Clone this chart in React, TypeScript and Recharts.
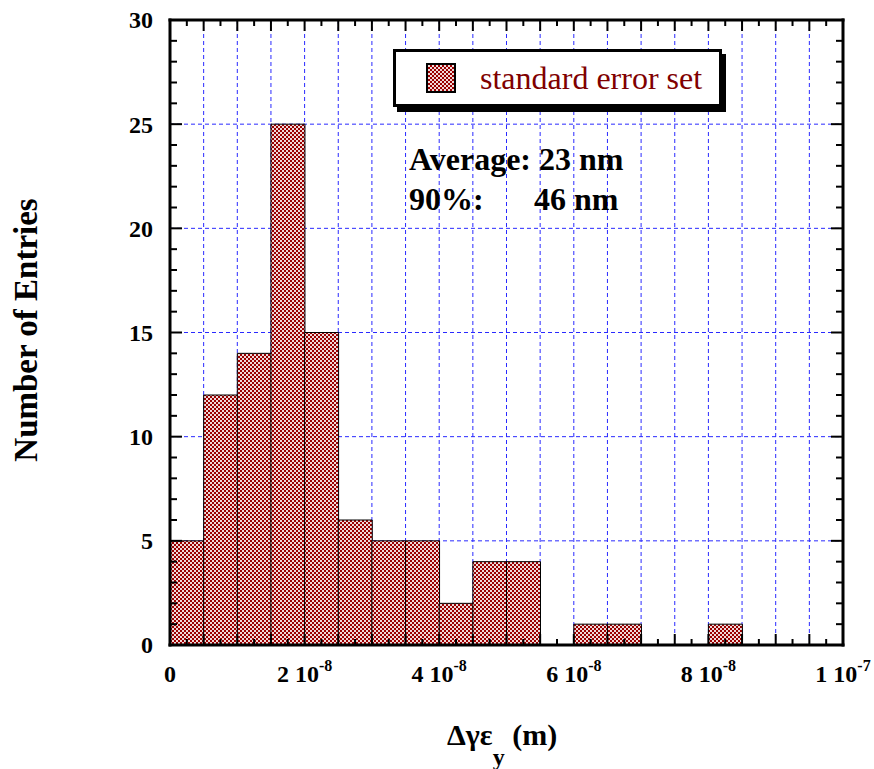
import { BarChart, Bar, XAxis, YAxis, CartesianGrid, Legend, Customized } from "recharts";

// histogram bins, 5 nm wide (values in metres)
const binCenters = [
  2.5e-9, 7.5e-9, 1.25e-8, 1.75e-8, 2.25e-8, 2.75e-8, 3.25e-8, 3.75e-8, 4.25e-8, 4.75e-8,
  5.25e-8, 5.75e-8, 6.25e-8, 6.75e-8, 7.25e-8, 7.75e-8, 8.25e-8, 8.75e-8, 9.25e-8, 9.75e-8,
];
const entries = [5, 12, 14, 25, 15, 6, 5, 5, 2, 4, 4, 0, 1, 1, 0, 0, 1, 0, 0, 0];

const xLabelValues = [0, 2e-8, 4e-8, 6e-8, 8e-8, 1e-7];
const xLabelMantissa = ["0", "2", "4", "6", "8", "1"];
const xLabelExponent = ["", "-8", "-8", "-8", "-8", "-7"];

const gridX = [
  5e-9, 1e-8, 1.5e-8, 2e-8, 2.5e-8, 3e-8, 3.5e-8, 4e-8, 4.5e-8, 5e-8,
  5.5e-8, 6e-8, 6.5e-8, 7e-8, 7.5e-8, 8e-8, 8.5e-8, 9e-8, 9.5e-8,
];
const gridY = [5, 10, 15, 20, 25];

// tick marks: every 2.5 nm on x, every 1 entry on y
const xTickMarks = Array.from({ length: 41 }, (_, i) => i * 2.5e-9);
const yTickMarks = Array.from({ length: 31 }, (_, i) => i);

const data = binCenters.map((c, i) => ({ bin: c, count: entries[i] }));

const FONT = "'Liberation Serif', 'Times New Roman', serif";

const isMajorX = (v: number) => Math.round(v / 2.5e-9) % 2 === 0;

const BottomTick = ({ x, y, payload }: any) => {
  const v = payload.value;
  const li = xLabelValues.findIndex((t) => Math.abs(t - v) < 1e-12);
  return (
    <g>
      <line x1={x} x2={x} y1={y} y2={y - (isMajorX(v) ? 11 : 6)} stroke="#000" strokeWidth={2} />
      {li >= 0 && (
        <text x={x} y={y + 37} textAnchor="middle" fontFamily={FONT} fontWeight="bold" fontSize={24} fill="#000">
          {xLabelMantissa[li]}
          {xLabelExponent[li] && (
            <>
              <tspan> 10</tspan>
              <tspan dy={-11} fontSize={16}>{xLabelExponent[li]}</tspan>
            </>
          )}
        </text>
      )}
    </g>
  );
};

const TopTick = ({ x, y, payload }: any) => (
  <line x1={x} x2={x} y1={y} y2={y + (isMajorX(payload.value) ? 11 : 6)} stroke="#000" strokeWidth={2} />
);

const LeftTick = ({ x, y, payload }: any) => {
  const v = payload.value;
  const major = v % 5 === 0;
  return (
    <g>
      <line x1={x} x2={x + (major ? 12 : 7)} y1={y} y2={y} stroke="#000" strokeWidth={2} />
      {major && (
        <text x={x - 17} y={y} dy="0.35em" textAnchor="end" fontFamily={FONT} fontWeight="bold" fontSize={24} fill="#000">
          {v}
        </text>
      )}
    </g>
  );
};

const RightTick = ({ x, y, payload }: any) => (
  <line x1={x} x2={x - (payload.value % 5 === 0 ? 12 : 7)} y1={y} y2={y} stroke="#000" strokeWidth={2} />
);

const LegendBox = () => (
  <div
    style={{
      boxSizing: "border-box",
      width: 329,
      height: 58,
      border: "3px solid #000",
      background: "#fff",
      boxShadow: "4px 5px 0 #000",
      display: "flex",
      alignItems: "center",
      paddingLeft: 30,
    }}
  >
    <svg width={30} height={30} style={{ marginRight: 24 }}>
      <rect x={1} y={1} width={28} height={28} fill="url(#xhatch)" stroke="#000" strokeWidth={2} />
    </svg>
    <span style={{ fontFamily: FONT, fontSize: 32, color: "#800000", lineHeight: 1 }}>standard error set</span>
  </div>
);

const Labels = () => (
  <g fontFamily={FONT} fontWeight="bold" fill="#000">
    <text x={409} y={170} fontSize={32}>Average: 23 nm</text>
    <text x={409} y={210} fontSize={32}>90%:</text>
    <text x={534} y={210} fontSize={32}>46 nm</text>
    <text x={37} y={330} fontSize={33} textAnchor="middle" transform="rotate(-90 37 330)">
      Number of Entries
    </text>
    <text x={447} y={745} fontSize={30}>
      Δγε
      <tspan dy={20} fontSize={24}>y</tspan>
      <tspan dy={-20}> (m)</tspan>
    </text>
  </g>
);

const frameLine = { stroke: "#000", strokeWidth: 3, strokeLinecap: "square" as const };

export default function App() {
  return (
    <div style={{ position: "absolute", left: 0, top: 0 }}>
      <BarChart
        width={874}
        height={769}
        data={data}
        margin={{ top: 19, right: 30, bottom: 123, left: 169 }}
        barCategoryGap={0}
        barGap={0}
      >
        <defs>
          <pattern id="xhatch" width={4} height={4} patternUnits="userSpaceOnUse">
            <rect width={4} height={4} fill="#9a0000" />
            <rect x={0} y={0} width={2} height={2} fill="#ffffff" opacity={0.85} />
            <rect x={2} y={2} width={2} height={2} fill="#ffffff" opacity={0.85} />
          </pattern>
        </defs>
        <CartesianGrid
          xAxisId="num"
          yAxisId="left"
          verticalValues={gridX}
          horizontalValues={gridY}
          stroke="#2a2aff"
          strokeDasharray="4 3"
        />
        <XAxis
          xAxisId="num"
          dataKey="bin"
          type="number"
          domain={[0, 1e-7]}
          ticks={xTickMarks}
          interval={0}
          height={1}
          tickSize={0}
          tickMargin={0}
          tickLine={false}
          tick={<BottomTick />}
          axisLine={frameLine}
        />
        <XAxis
          xAxisId="top"
          dataKey="bin"
          orientation="top"
          type="number"
          domain={[0, 1e-7]}
          ticks={xTickMarks}
          interval={0}
          height={1}
          tickSize={0}
          tickMargin={0}
          tickLine={false}
          tick={<TopTick />}
          axisLine={frameLine}
        />
        <YAxis
          yAxisId="left"
          domain={[0, 30]}
          ticks={yTickMarks}
          interval={0}
          width={1}
          tickSize={0}
          tickMargin={0}
          tickLine={false}
          tick={<LeftTick />}
          axisLine={frameLine}
        />
        <YAxis
          yAxisId="right"
          orientation="right"
          domain={[0, 30]}
          ticks={yTickMarks}
          interval={0}
          width={1}
          tickSize={0}
          tickMargin={0}
          tickLine={false}
          tick={<RightTick />}
          axisLine={frameLine}
        />
        <Bar
          xAxisId="num"
          yAxisId="left"
          dataKey="count"
          name="standard error set"
          fill="url(#xhatch)"
          stroke="#000"
          strokeWidth={1}
          isAnimationActive={false}
        />
        {/* invisible copy so the top / right frame axes have data */}
        <Bar
          xAxisId="top"
          yAxisId="right"
          dataKey="count"
          fill="none"
          stroke="none"
          legendType="none"
          isAnimationActive={false}
        />
        <Legend
          layout="vertical"
          align="center"
          verticalAlign="middle"
          wrapperStyle={{ left: 393, top: 49, width: 340 }}
          content={() => <LegendBox />}
        />
        <Customized component={<Labels />} />
      </BarChart>
    </div>
  );
}
